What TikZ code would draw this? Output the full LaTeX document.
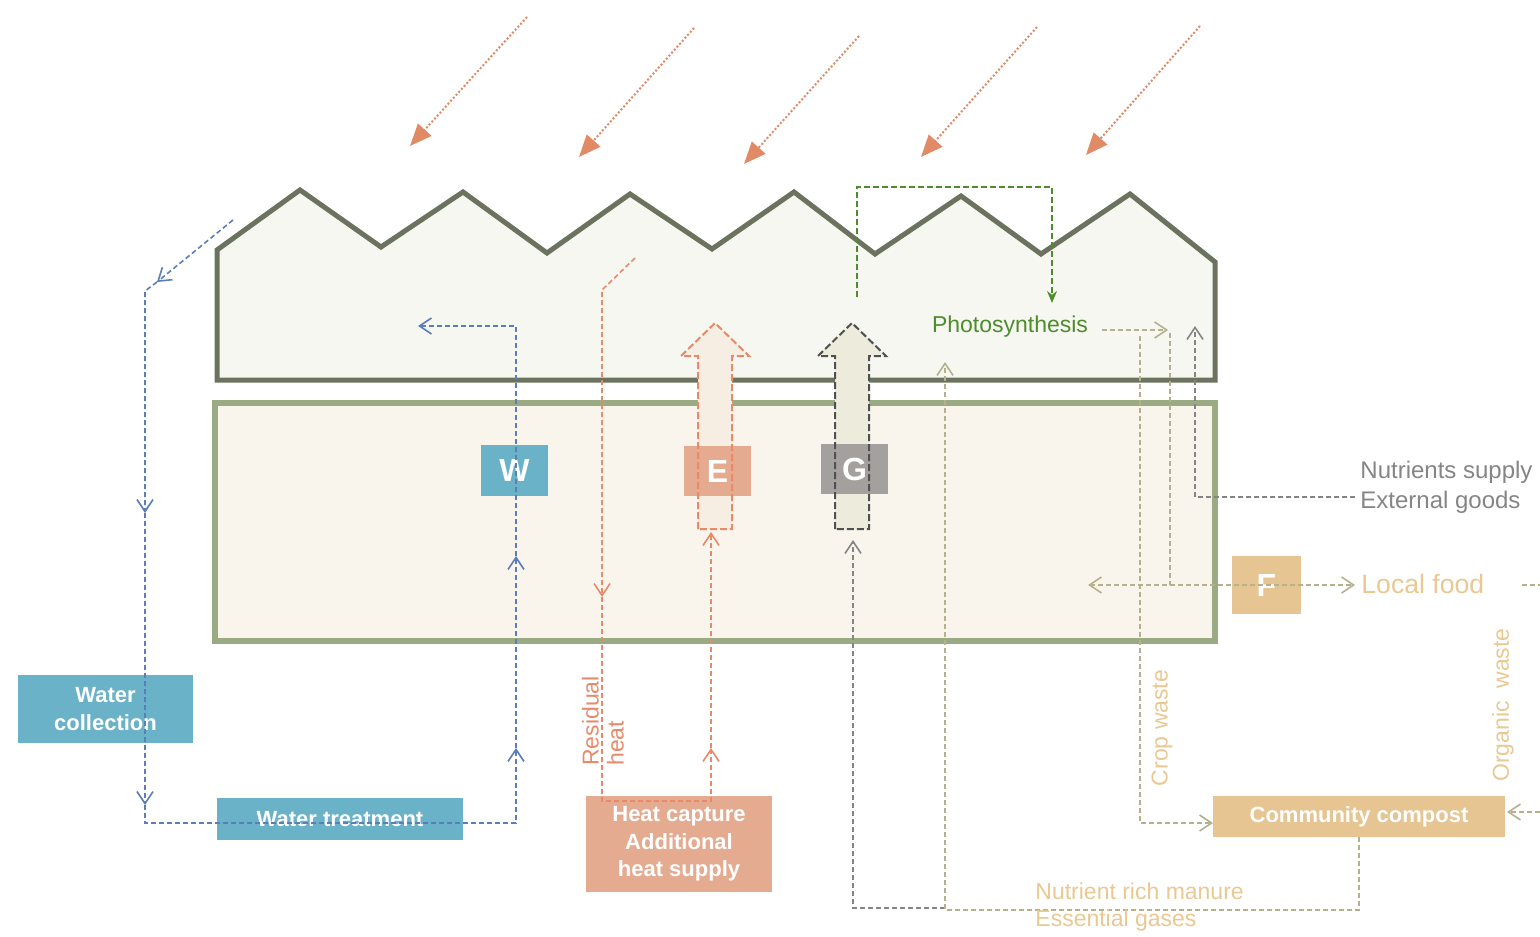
\documentclass[tikz,border=0pt]{standalone}
\usepackage{fontspec}
\setmainfont{Liberation Sans}
\usepackage{tikz}
\usetikzlibrary{arrows.meta, positioning, calc}

\definecolor{roofline}{HTML}{6B735F}
\definecolor{rooffill}{HTML}{F7F7F1}
\definecolor{floorline}{HTML}{9AAB84}
\definecolor{floorfill}{HTML}{F9F5EC}
\definecolor{waterbox}{HTML}{6AB2C8}
\definecolor{waterline}{HTML}{5B7DBA}
\definecolor{heatbox}{HTML}{E5AB91}
\definecolor{heatline}{HTML}{E8896A}
\definecolor{heatfill}{HTML}{F6EEE2}
\definecolor{gasbox}{HTML}{A3A09E}
\definecolor{gasline}{HTML}{858585}
\definecolor{gasdark}{HTML}{505050}
\definecolor{gasfill}{HTML}{ECEBDC}
\definecolor{foodbox}{HTML}{E6C592}
\definecolor{foodtext}{HTML}{E9C891}
\definecolor{wasteline}{HTML}{B5B18C}
\definecolor{photoline}{HTML}{4E8C2E}
\definecolor{sunline}{HTML}{E08A66}

\tikzset{
  flow/.style={dash pattern=on 2.5pt off 1.5pt, line width=0.8pt},
  barb/.style={-{Straight Barb[length=6pt,width=8pt]}},
  barbs/.style={{Straight Barb[length=6pt,width=8pt]}-{Straight Barb[length=6pt,width=8pt]}},
  box/.style={rectangle, inner sep=0pt, text=white, align=center, font=\bfseries\fontsize{11}{13.7}\selectfont},
  letter/.style={box, font=\bfseries\fontsize{16}{18}\selectfont},
  note/.style={inner sep=0pt, align=left, font=\fontsize{11.5}{14}\selectfont},
}

% block arrow pointing up, centred on x = #1
\newcommand{\upblock}[1]{(#1-17,529) -- (#1-17,356) -- (#1-34,356) -- (#1,323) -- (#1+34,356) -- (#1+17,356) -- (#1+17,529) -- cycle}

\begin{document}
\begin{tikzpicture}[x=0.5pt, y=-0.5pt]
	\useasboundingbox (0,0) rectangle (1540,936);
	
	% greenhouse and ground floor
	\draw[roofline, line width=2.5pt, fill=rooffill] (217,380) -- (217,250) -- (300,190) -- (381,247) -- (463,192) -- (547,253) -- (630,194) -- (712,249) -- (794,192) -- (875,254) -- (961,196) -- (1041,254) -- (1130,194) -- (1215,262) -- (1215,380) -- cycle;
	\draw[floorline, line width=3pt, fill=floorfill] (215,403) rectangle (1215,641);
	
	% sunlight
	\foreach \sx/\sy/\ex/\ey in {527/17/410/146, 694/28/579/157, 859/36/744/164, 1037/27/921/157, 1200/26/1086/155}
		\draw[sunline, line width=1pt, dash pattern=on 1pt off 1pt, -{Triangle[length=11pt,width=9pt]}] (\sx,\sy) -- (\ex,\ey);
	
	% block arrows, filled first
	\fill[heatfill] \upblock{715};
	\fill[gasfill] \upblock{852};
	
	% boxes
	\node[letter, fill=waterbox, minimum width=33.5pt, minimum height=25.5pt] (W) at (514.5,470.5) {W};
	\node[letter, fill=heatbox, minimum width=33.5pt, minimum height=25pt] (E) at (717.5,471) {E};
	\node[letter, fill=gasbox, minimum width=33.5pt, minimum height=25pt] (G) at (854.5,469) {G};
	\node[letter, fill=foodbox, minimum width=34.5pt, minimum height=29pt] (F) at (1266.5,585) {F};
	\node[box, fill=waterbox, minimum width=87.5pt, minimum height=34pt] (collect) at (105.5,709) {Water\\collection};
	\node[box, fill=waterbox, minimum width=123pt, minimum height=21pt] (treat) at (340,819) {Water treatment};
	\node[box, fill=heatbox, minimum width=93pt, minimum height=48pt] (heat) at (679,844) {Heat capture\\Additional\\heat supply};
	\node[box, fill=foodbox, minimum width=146pt, minimum height=20.5pt] (compost) at (1359,816.5) {Community compost};
	
	% block arrow outlines
	\draw[heatline, line width=1pt, dash pattern=on 3.5pt off 1.5pt] \upblock{715};
	\draw[gasdark, line width=1pt, dash pattern=on 3.5pt off 1.5pt] \upblock{852};
	
	% water loop
	\coordinate (rain) at (233,220);
	\coordinate (w1) at (157,282);
	\coordinate (w2) at (145,291);
	\coordinate (w3) at (145,513);
	\coordinate (w4) at (145,805);
	\coordinate (w5) at (516,823);
	\coordinate (w6) at (516,748);
	\coordinate (w7) at (516,556);
	\coordinate (w8) at (418,326);
	\draw[flow, waterline, barb] (rain) -- (w1);
	\draw[flow, waterline, barb] (w1) -- (w2) -- (w3);
	\draw[flow, waterline, barb] (w3) -- (w4);
	\draw[flow, waterline, barb] (w4) |- (w5) -- (w6);
	\draw[flow, waterline, barb] (w6) -- (w7);
	\draw[flow, waterline, barb] (w7) |- (w8);
	
	% heat loop
	\coordinate (r0) at (635,258);
	\coordinate (r1) at (602,290);
	\coordinate (r2) at (602,597);
	\coordinate (r3) at (711,801);
	\coordinate (r4) at (711,748);
	\coordinate (r5) at (711,532);
	\draw[flow, heatline, barb] (r0) -- (r1) -- (r2);
	\draw[flow, heatline, barb] (r2) |- (r3) -- (r4);
	\draw[flow, heatline, barb] (r4) -- (r5);
	
	% gases and manure
	\coordinate (g0) at (945,908);
	\coordinate (g1) at (853,540);
	\coordinate (m0) at (945,910);
	\coordinate (m1) at (945,362);
	\draw[flow, gasline, barb] (g0) -| (g1);
	\draw[flow, wasteline, barb] (compost.south) |- (m0) -- (m1);
	
	% external goods
	\coordinate (n0) at (1355,497);
	\coordinate (n1) at (1195,326);
	\draw[flow, gasline, barb] (n0) -| (n1);
	
	% photosynthesis, food and waste
	\coordinate (s0) at (857,297);
	\coordinate (s1) at (1052,303);
	\draw[flow, photoline, dash pattern=on 3pt off 1.5pt, -{Stealth[length=6pt,width=5pt]}] (s0) -- ++(0,-110) -| (s1);
	\coordinate (p0) at (1102,330);
	\coordinate (p1) at (1168,330);
	\coordinate (c0) at (1170,333);
	\coordinate (c1) at (1170,585);
	\coordinate (cw) at (1140,336);
	\coordinate (cw1) at (1213,823);
	\coordinate (f0) at (1088,585);
	\coordinate (f1) at (1355,585);
	\coordinate (o0) at (1522,585);
	\coordinate (o1) at (1540,585);
	\coordinate (o2) at (1540,812);
	\coordinate (o3) at (1507,812);
	\draw[flow, wasteline, barb] (p0) -- (p1);
	\draw[flow, wasteline] (c0) -- (c1);
	\draw[flow, wasteline, barb] (cw) |- (cw1);
	\draw[flow, wasteline, barbs] (f0) -- (f1);
	\draw[flow, wasteline] (o0) -- (o1);
	\draw[flow, wasteline, barb] (o2) -- (o3);
	
	% labels
	\node[note, text=photoline] (photo) at (1010,327) {Photosynthesis};
	\node[note, text=gasline, anchor=west, font=\fontsize{12}{15}\selectfont] (supply) at (1360,487) {Nutrients supply\\External goods};
	\node[note, text=foodtext, anchor=west, font=\fontsize{13.3}{15}\selectfont] (food) at (1361,584) {Local food};
	\node[note, text=foodtext, rotate=90] (crop) at (1162,728) {Crop waste};
	\node[note, text=foodtext, rotate=90] (organic) at (1503,705) {Organic~ waste};
	\node[note, text=heatline, rotate=90, font=\fontsize{11.5}{12.5}\selectfont] (residual) at (603,721) {Residual\\heat};
	\node[note, text=foodtext, anchor=west, font=\fontsize{11.5}{13.5}\selectfont] (manure) at (1035,907) {Nutrient rich manure\\Essential gases};
\end{tikzpicture}
\end{document}
